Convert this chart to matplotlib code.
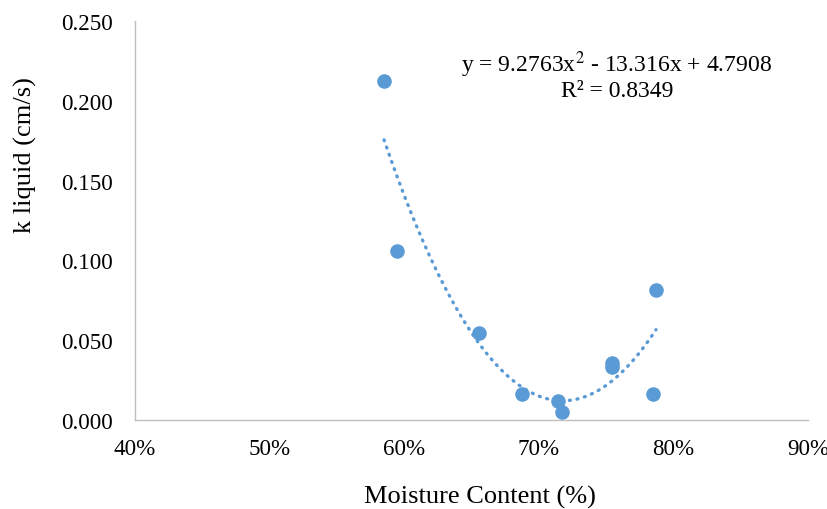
import matplotlib.pyplot as plt
import numpy as np
from matplotlib.ticker import FuncFormatter

# Measured points (moisture fraction, k liquid cm/s)
moisture = [0.585, 0.595, 0.6556, 0.6875, 0.714, 0.717, 0.754, 0.754, 0.785, 0.787]
k_liquid = [0.2124, 0.1059, 0.0545, 0.0163, 0.0119, 0.0050, 0.0357, 0.0332, 0.0163, 0.0815]

# Trendline coefficients (from the chart)
coef = [9.2763, -13.316, 4.7908]

plt.rcParams['font.family'] = ['Liberation Serif', 'DejaVu Serif']

fig = plt.figure(figsize=(8.28, 5.10), dpi=100)
ax = fig.add_axes([0.163, 0.1745, 0.813, 0.7825])

blue = '#5B9BD5'
ax.scatter(moisture, k_liquid, s=110, color=blue, zorder=3, linewidths=0)

xs = np.linspace(min(moisture), max(moisture), 200)
ax.plot(xs, np.polyval(coef, xs), color=blue, linewidth=2.4,
        linestyle=(0, (0.3, 2.0)), dash_capstyle='round', zorder=2)

ax.set_xlim(0.4, 0.9)
ax.set_ylim(0, 0.25)
ax.set_xticks(np.arange(0.4, 0.91, 0.1))
ax.set_yticks(np.arange(0, 0.251, 0.05))
ax.xaxis.set_major_formatter(FuncFormatter(lambda v, p: f'{v*100:.0f}%'))
ax.yaxis.set_major_formatter(FuncFormatter(lambda v, p: f'{v:.3f}'))
ax.tick_params(length=0, labelsize=16.6)
ax.tick_params(axis='y', pad=16)
ax.tick_params(axis='x', pad=13)

for s in ['top', 'right']:
    ax.spines[s].set_visible(False)
for s in ['left', 'bottom']:
    ax.spines[s].set_color('#bfbfbf')
    ax.spines[s].set_linewidth(1.0)

fig.text(480 / 828, 1 - 497 / 510, 'Moisture Content (%)', fontsize=19,
         ha='center', va='center')
fig.text(25 / 828, 1 - 155 / 510, 'k liquid (cm/s)', fontsize=19,
         ha='center', va='center', rotation=90)

ax.text(0.758, 0.2165, 'y = 9.2763x$^2$ - 13.316x + 4.7908\nR² = 0.8349',
        ha='center', va='center', fontsize=17, linespacing=1.05,
        math_fontfamily='stix')

fig.savefig('out.png', dpi=100)
